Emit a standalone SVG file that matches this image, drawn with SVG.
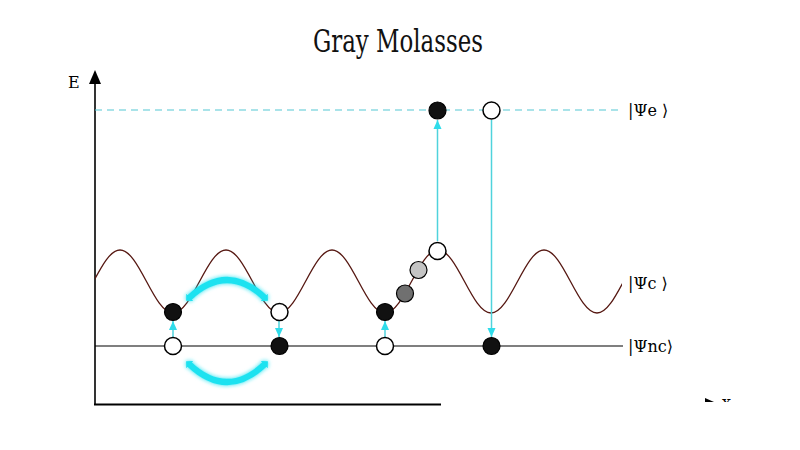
<svg xmlns="http://www.w3.org/2000/svg" width="800" height="450" viewBox="0 0 800 450">
  <defs>
    <style>
      .lbl { font-family: "DejaVu Serif", "Liberation Serif", serif; font-size: 16px; fill: #000; }
      .axis { stroke: #000; fill: none; }
      .cy { stroke: #4fd3dc; stroke-width: 1.5; fill: none; }
      .blk { fill: #111; stroke: #000; stroke-width: 1.2; }
      .wht { fill: #fff; stroke: #000; stroke-width: 1.5; }
      .arc { stroke: #1fe2f0; stroke-width: 6; fill: none; }
    </style>
    <marker id="ah" markerUnits="userSpaceOnUse" markerWidth="10" markerHeight="10" viewBox="0 0 10 10" refX="9" refY="5" orient="auto">
      <path d="M0,1 L9,5 L0,9 z" fill="#2fdcea"/>
    </marker>
    <marker id="ah2" markerUnits="userSpaceOnUse" markerWidth="6" markerHeight="10" viewBox="0 0 6 10" refX="1" refY="5" orient="auto-start-reverse">
      <path d="M0,0 L5,5 L0,10 z" fill="#1fe2f0"/>
    </marker>
    <filter id="glow" x="-20%" y="-50%" width="140%" height="200%">
      <feGaussianBlur stdDeviation="2" result="b"/>
      <feMerge><feMergeNode in="b"/><feMergeNode in="SourceGraphic"/></feMerge>
    </filter>
    <clipPath id="waveclip"><rect x="95" y="200" width="527" height="150"/></clipPath>
    <clipPath id="xclip"><rect x="690" y="380" width="60" height="22"/></clipPath>
  </defs>

  <text x="398" y="52" text-anchor="middle" font-family="'DejaVu Serif Condensed', 'DejaVu Serif', serif" font-size="32" textLength="170" lengthAdjust="spacingAndGlyphs" fill="#111">Gray Molasses</text>

  <g id="axes">
    <line class="axis" x1="95" y1="404" x2="95" y2="82" stroke-width="1.6"/>
    <polygon points="95,70 89,84 101,84" fill="#000"/>
    <line class="axis" x1="94" y1="404.5" x2="441" y2="404.5" stroke-width="2.2"/>
    <text class="lbl" x="68" y="88">E</text>
    <g clip-path="url(#xclip)">
      <polygon points="705,398 714,402 714,403 705,403" fill="#000"/>
      <text class="lbl" x="722" y="408">x</text>
    </g>
  </g>

  <g id="levels">
    <line x1="95" y1="110" x2="623" y2="110" stroke="#55c8d3" stroke-width="1.1" stroke-dasharray="7 5"/>
    <line x1="95" y1="346" x2="623" y2="346" stroke="#000" stroke-width="1.1"/>
    <path clip-path="url(#waveclip)" d="M67,313 C86.26,313 100.74,250 120,250 S153.74,313 173,313 S206.74,250 226,250 S259.74,313 279,313 S312.74,250 332,250 S365.74,313 385,313 S418.74,250 438,250 S471.74,313 491,313 S524.74,250 544,250 S577.74,313 597,313 S630.74,250 650,250" fill="none" stroke="#561812" stroke-width="1.3"/>
    <text class="lbl" x="628" y="116">|Ψe ⟩</text>
    <text class="lbl" x="628" y="289">|Ψc ⟩</text>
    <text class="lbl" x="628" y="352">|Ψnc⟩</text>
  </g>

  <g id="connectors">
    <line class="cy" x1="173" y1="337" x2="173" y2="321" marker-end="url(#ah)"/>
    <line class="cy" x1="279" y1="321" x2="279" y2="337" marker-end="url(#ah)"/>
    <line class="cy" x1="385" y1="337" x2="385" y2="321" marker-end="url(#ah)"/>
    <line class="cy" x1="437.5" y1="241" x2="437.5" y2="120" marker-end="url(#ah)"/>
    <line class="cy" x1="491.5" y1="120" x2="491.5" y2="337" marker-end="url(#ah)"/>
    <g filter="url(#glow)">
      <path class="arc" d="M189,298 Q227,262 265,298" marker-start="url(#ah2)" marker-end="url(#ah2)"/>
      <path class="arc" d="M189,364 Q227,400 265,364" marker-start="url(#ah2)" marker-end="url(#ah2)"/>
    </g>
  </g>

  <g id="n1"><circle class="blk" cx="173" cy="312" r="8.5"/></g>
  <g id="n2"><circle class="wht" cx="173" cy="346" r="8.5"/></g>
  <g id="n3"><circle class="wht" cx="279.5" cy="312" r="8.5"/></g>
  <g id="n4"><circle class="blk" cx="279.5" cy="346" r="8.5"/></g>
  <g id="n5"><circle class="blk" cx="385" cy="312" r="8.5"/></g>
  <g id="n6"><circle class="wht" cx="385" cy="346" r="8.5"/></g>
  <g id="n7"><circle cx="405" cy="293.5" r="8.5" fill="#707070" stroke="#000" stroke-width="1.2"/></g>
  <g id="n8"><circle cx="418.5" cy="270" r="8.5" fill="#c4c4c4" stroke="#000" stroke-width="1.2"/></g>
  <g id="n9"><circle class="wht" cx="437.5" cy="251" r="8.5"/></g>
  <g id="n10"><circle class="blk" cx="437.5" cy="110.5" r="8.5"/></g>
  <g id="n11"><circle class="wht" cx="491.5" cy="110.5" r="8.5"/></g>
  <g id="n12"><circle class="blk" cx="491.5" cy="346" r="8.5"/></g>
</svg>
